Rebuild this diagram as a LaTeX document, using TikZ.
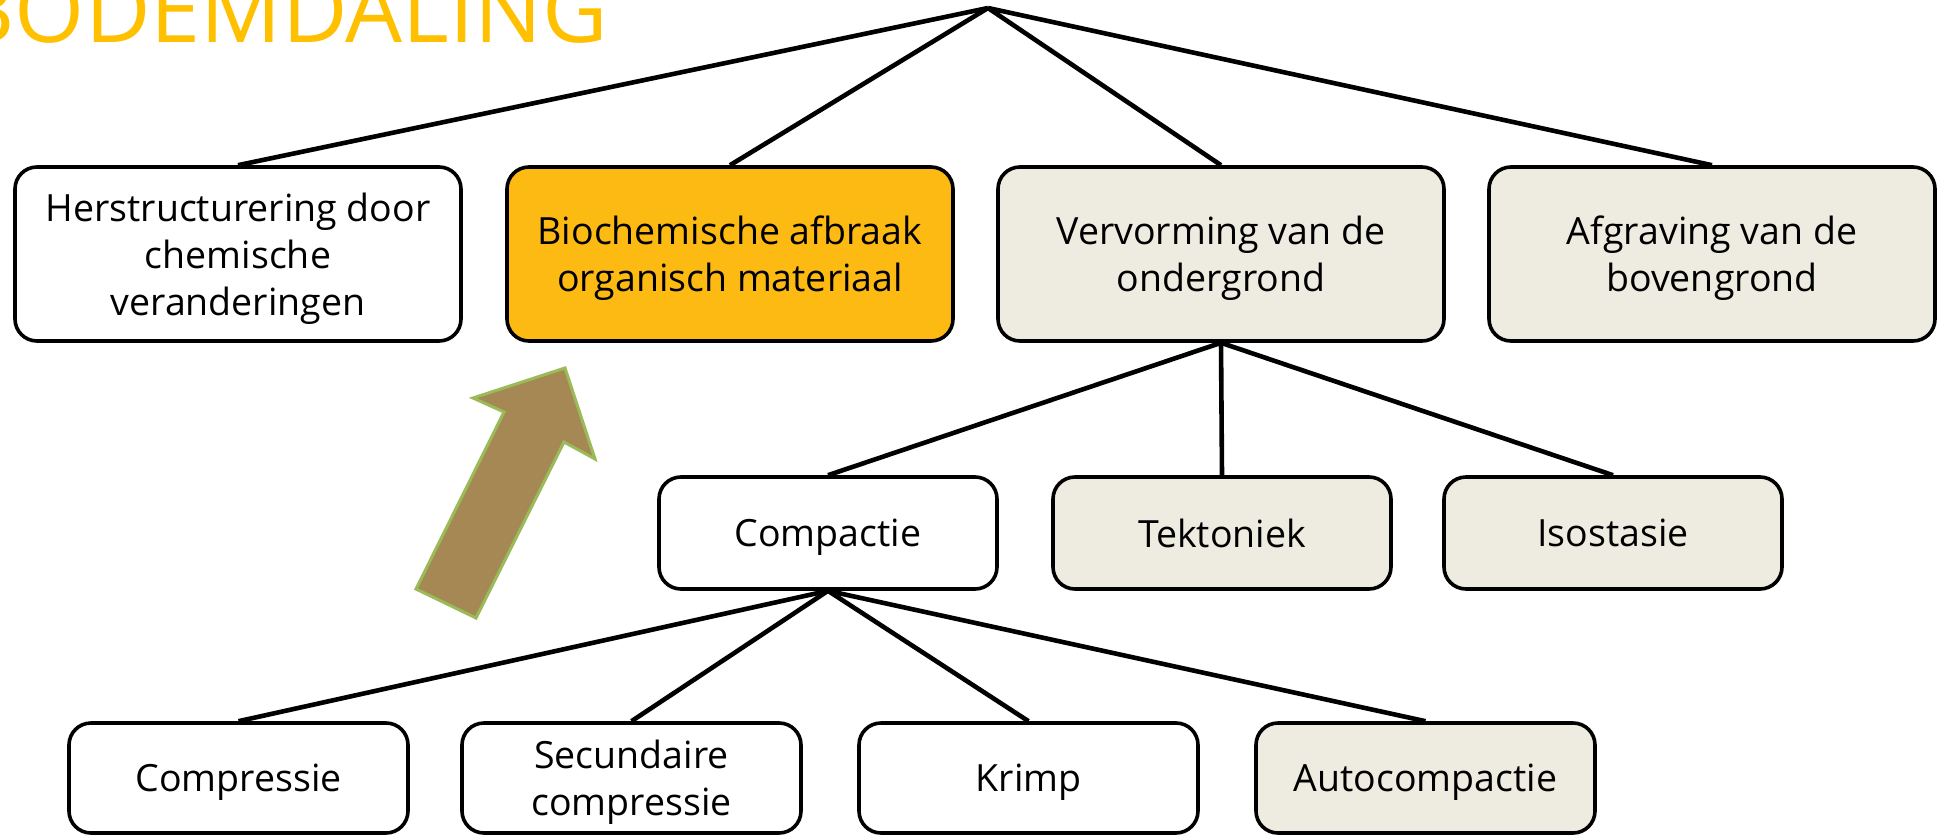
\documentclass[tikz,border=0pt]{standalone}
\usepackage{fontspec}
\setmainfont{Open Sans}
\usepackage{tikz}
\usetikzlibrary{shapes,arrows,positioning,calc}

\definecolor{titleyellow}{HTML}{FFC000}
\definecolor{boxorange}{HTML}{FDBA12}
\definecolor{boxbeige}{HTML}{EEECE1}
\definecolor{arrowbrown}{HTML}{A58854}
\definecolor{arrowgreen}{HTML}{9BBB59}

\begin{document}
\begin{tikzpicture}[x=0.5pt,y=-0.5pt,
    box/.style={draw=black, line width=1.8pt, rounded corners=11pt, align=center,
                font=\fontsize{18.75}{23.5}\selectfont, inner sep=0pt, text depth=0pt},
    topbox/.style={box, minimum width=223pt, minimum height=87pt},
    midbox/.style={box, minimum width=169pt, minimum height=56pt},
    lowbox/.style={box, minimum width=169.5pt, minimum height=55pt},
    link/.style={draw=black, line width=2.3pt}]
            \useasboundingbox (0,0) rectangle (1939,835);
            \node[anchor=base east, text=titleyellow, font=\fontsize{45}{45}\selectfont] (title) at (615,42) {BODEMDALING};
            \coordinate (apex) at (988,8);
            % top row
            \node[topbox, fill=white] (herstr) at (238,254) {Herstructurering door\\chemische\\veranderingen};
            \node[topbox, fill=boxorange] (biochem) at (730,254) {Biochemische afbraak\\organisch materiaal};
            \node[topbox, fill=boxbeige] (vervorm) at (1221,254) {Vervorming van de\\ondergrond};
            \node[topbox, fill=boxbeige] (afgrav) at (1712,254) {Afgraving van de\\bovengrond};
            % middle row
            \node[midbox, fill=white] (compactie) at (828,533) {Compactie};
            \node[midbox, fill=boxbeige] (tektoniek) at (1222,533) {Tektoniek};
            \node[midbox, fill=boxbeige] (isostasie) at (1613,533) {Isostasie};
            % bottom row
            \node[lowbox, fill=white] (compressie) at (238.5,778) {Compressie};
            \node[lowbox, fill=white] (secundair) at (631.5,778) {Secundaire\\compressie};
            \node[lowbox, fill=white] (krimp) at (1028.5,778) {Krimp};
            \node[lowbox, fill=boxbeige] (autocomp) at (1425.5,778) {Autocompactie};
            \foreach \n in {herstr,biochem,vervorm,afgrav} {
                \draw[link] (apex) -- (\n.north);
            }
            \foreach \n in {compactie,tektoniek,isostasie} {
                \draw[link] (vervorm.south) -- (\n.north);
            }
            \foreach \n in {compressie,secundair,krimp,autocomp} {
                \draw[link] (compactie.south) -- (\n.north);
            }
            % block arrow
            \filldraw[fill=arrowbrown, draw=arrowgreen, line width=1.5pt, line join=miter]
                (416,589) -- (504,412) -- (473,398) -- (565,368) -- (595,459)
                -- (564,442) -- (476,618) -- cycle;
        \end{tikzpicture}
\end{document}
